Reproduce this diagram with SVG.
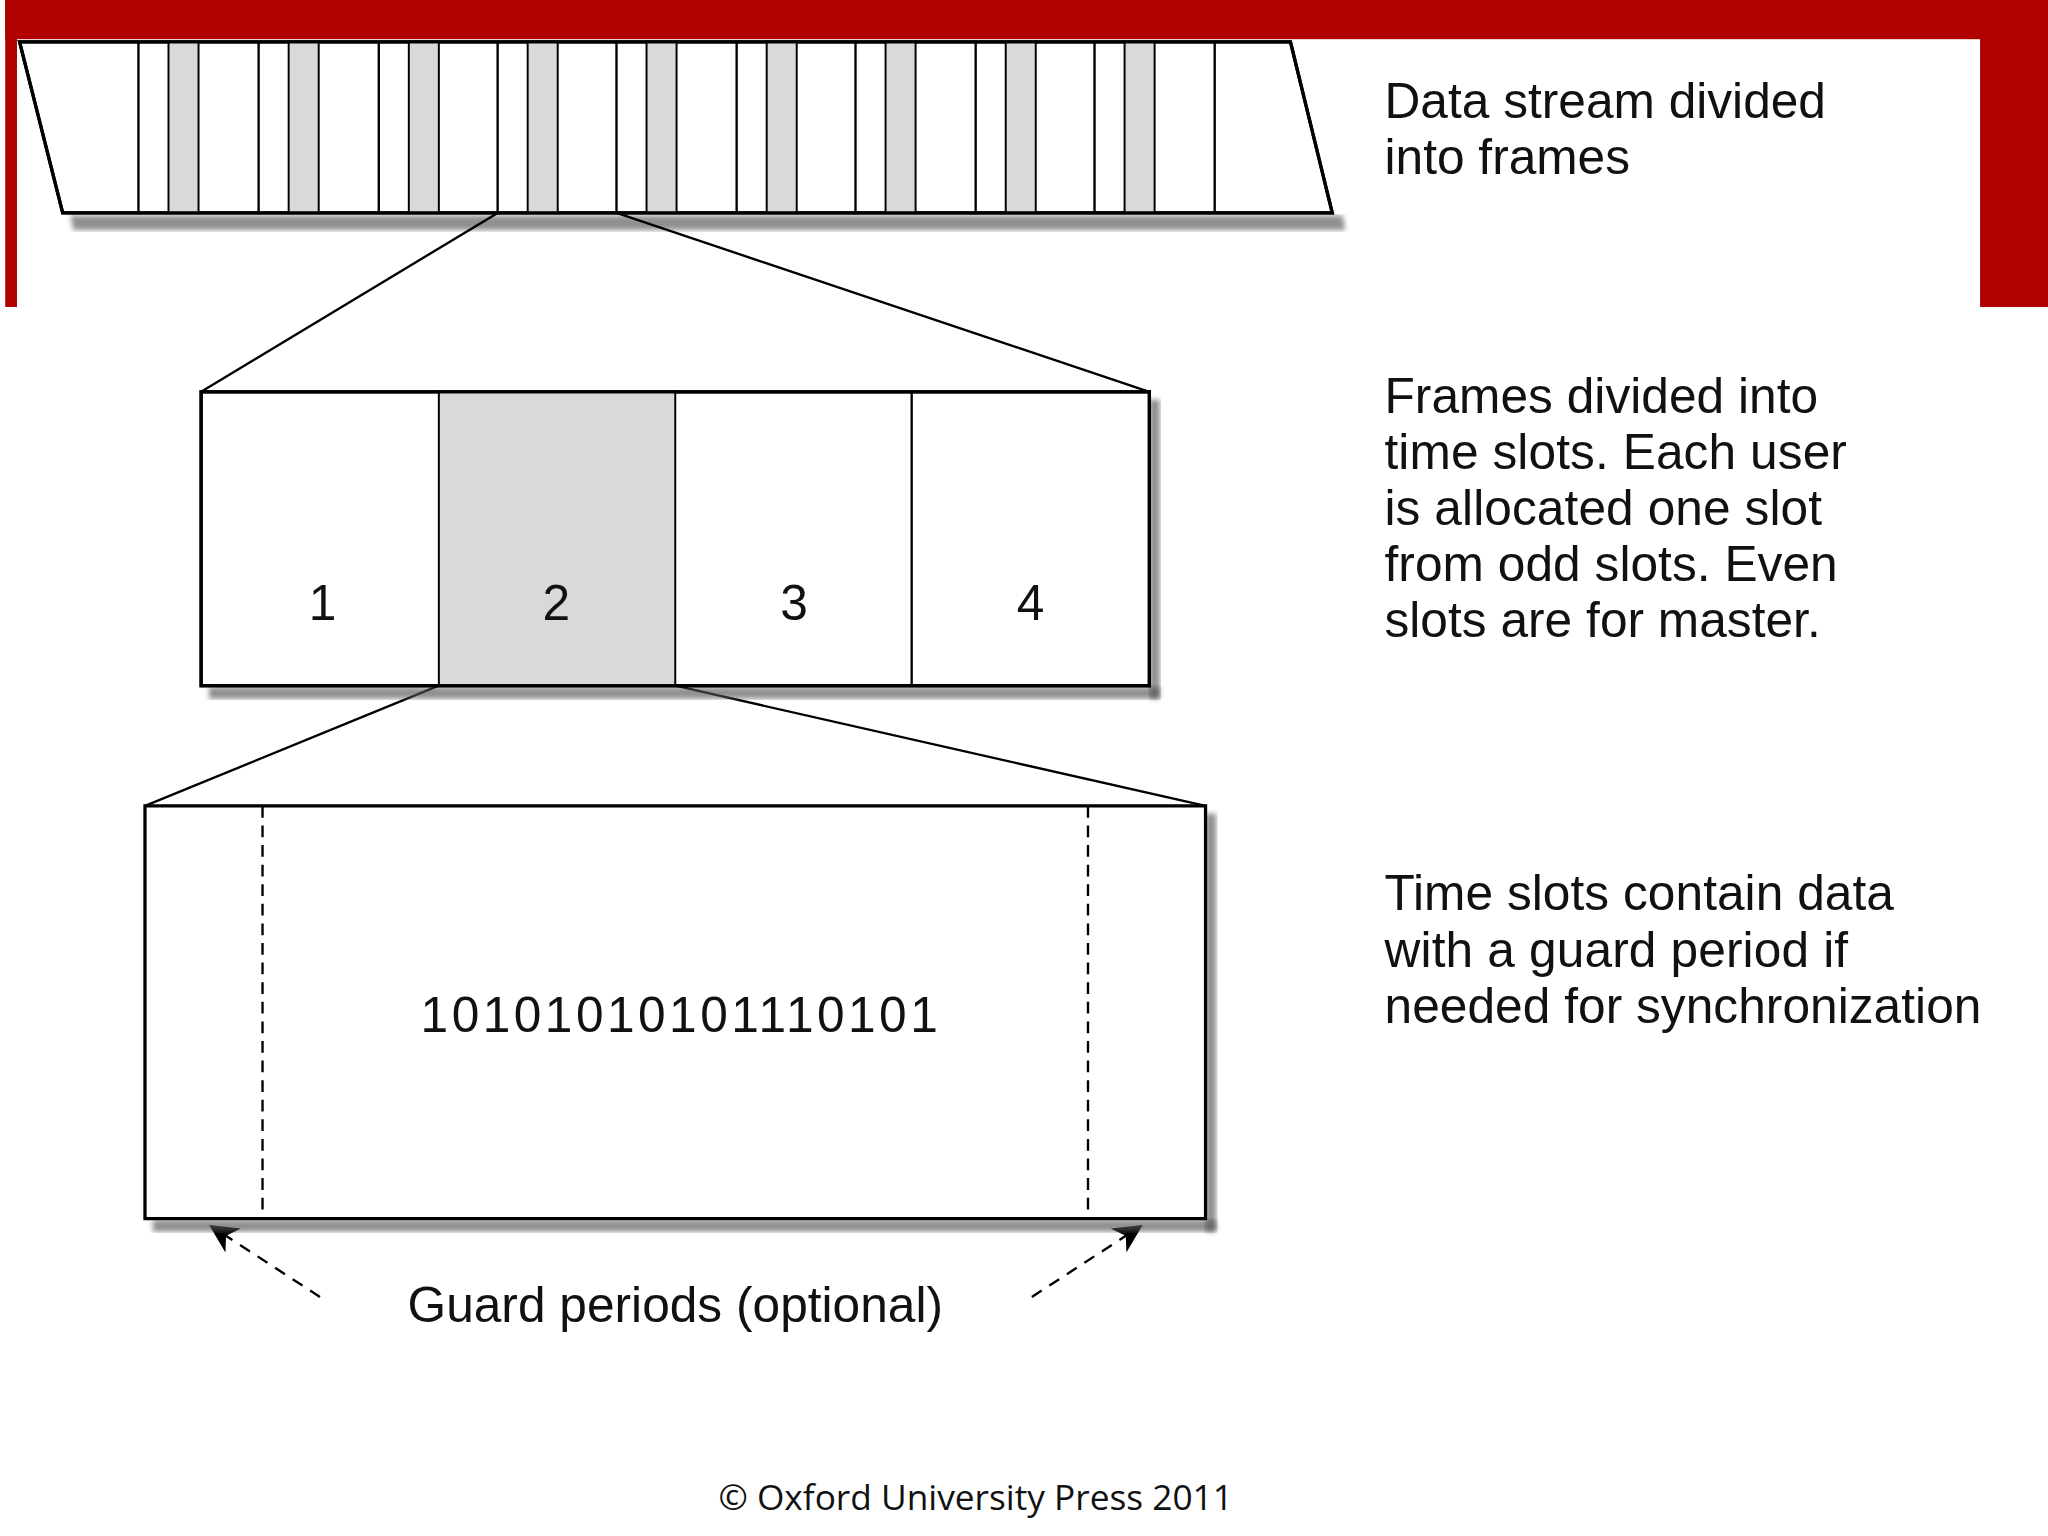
<svg xmlns="http://www.w3.org/2000/svg" width="2048" height="1536" viewBox="0 0 2048 1536">
<defs>
<style>
.o{fill:#fff;stroke:#000;stroke-width:2.5}
.g{fill:#d9d9d9;stroke:#000;stroke-width:1.5}
.l{stroke:#000;stroke-width:1.8;fill:none}
.t{font-family:"Liberation Sans",Arial,sans-serif;font-size:38px;fill:#111}
.sh{fill:#555;opacity:0.65}
</style>
<marker id="ah" viewBox="0 0 10 10" refX="9" refY="5" markerWidth="22" markerHeight="22" markerUnits="userSpaceOnUse" orient="auto-start-reverse"><path d="M0,0 L10,5 L0,10 L3,5 Z" fill="#000"/></marker>
<filter id="bl"><feGaussianBlur stdDeviation="2"/></filter>
</defs>
<rect width="2048" height="1536" fill="#fff"/>
<g transform="scale(1.30612)">
<g id="frame">
<rect x="4" y="0" width="1564" height="30" fill="#b00000"/>
<rect x="4" y="0" width="9" height="235" fill="#b00000"/>
<rect x="1516" y="0" width="52" height="235" fill="#b00000"/>
</g>
<g id="stream">
<polygon class="sh" filter="url(#bl)" points="54,165 1028,165 1030,176 56,176"/>
<polygon class="o" points="15,32 988,32 1020,163 48,163"/>
<g fill="#d9d9d9" stroke="#000" stroke-width="1.5">
<rect x="129" y="32" width="23" height="131"/><rect x="221" y="32" width="23" height="131"/><rect x="313" y="32" width="23" height="131"/><rect x="404" y="32" width="23" height="131"/><rect x="495" y="32" width="23" height="131"/><rect x="587" y="32" width="23" height="131"/><rect x="678" y="32" width="23" height="131"/><rect x="770" y="32" width="23" height="131"/><rect x="861" y="32" width="23" height="131"/>
</g>
<path class="l" d="M106,32V163M198,32V163M290,32V163M381,32V163M472,32V163M564,32V163M655,32V163M747,32V163M838,32V163M930,32V163"/>
<polygon points="15,32 988,32 1020,163 48,163" fill="none" stroke="#000" stroke-width="2.5"/>
</g>
<g id="connectors">
<path class="l" d="M381,163 L154,300 M472,163 L880,300 M336,525 L111,617 M517,525 L923,617"/>
<path d="M245,993 L162,939" stroke="#000" stroke-width="1.8" stroke-dasharray="9,7" fill="none" marker-end="url(#ah)"/>
<path d="M790,993 L873,939" stroke="#000" stroke-width="1.8" stroke-dasharray="9,7" fill="none" marker-end="url(#ah)"/>
</g>
<g id="slots">
<rect class="sh" filter="url(#bl)" x="160" y="526" width="728" height="9"/>
<rect class="sh" filter="url(#bl)" x="880" y="306" width="8" height="229"/>
<rect class="o" x="154" y="300" width="726" height="225"/>
<rect class="g" x="336" y="300" width="181" height="225"/>
<path class="l" d="M698,300V525"/>
<rect x="154" y="300" width="726" height="225" fill="none" stroke="#000" stroke-width="2.5"/>
<text class="t" x="247" y="475" text-anchor="middle">1</text>
<text class="t" x="426" y="475" text-anchor="middle">2</text>
<text class="t" x="608" y="475" text-anchor="middle">3</text>
<text class="t" x="789" y="475" text-anchor="middle">4</text>
</g>
<g id="slot">
<rect class="sh" filter="url(#bl)" x="117" y="934" width="814" height="9"/>
<rect class="sh" filter="url(#bl)" x="923" y="623" width="8" height="320"/>
<rect class="o" x="111" y="617" width="812" height="316"/>
<path d="M201,617V933M833,617V933" stroke="#000" stroke-width="1.8" stroke-dasharray="9,6"/>
<text class="t" x="322" y="790" textLength="396">10101010101110101</text>
<text class="t" x="312" y="1012" textLength="410">Guard periods (optional)</text>
</g>
<g id="labels" class="t">
<text x="1060" y="90" textLength="338">Data stream divided</text>
<text x="1060" y="133" textLength="188">into frames</text>
<text x="1060" y="316" textLength="332">Frames divided into</text>
<text x="1060" y="359" textLength="354">time slots. Each user</text>
<text x="1060" y="402" textLength="335">is allocated one slot</text>
<text x="1060" y="445" textLength="347">from odd slots. Even</text>
<text x="1060" y="488" textLength="334">slots are for master.</text>
<text x="1060" y="697" textLength="390">Time slots contain data</text>
<text x="1060" y="740" textLength="355">with a guard period if</text>
<text x="1060" y="783" textLength="457">needed for synchronization</text>
</g>
<text x="747" y="1156" text-anchor="middle" font-family="Open Sans, sans-serif" font-size="27" fill="#111">© Oxford University Press 2011</text>
</g>
</svg>
